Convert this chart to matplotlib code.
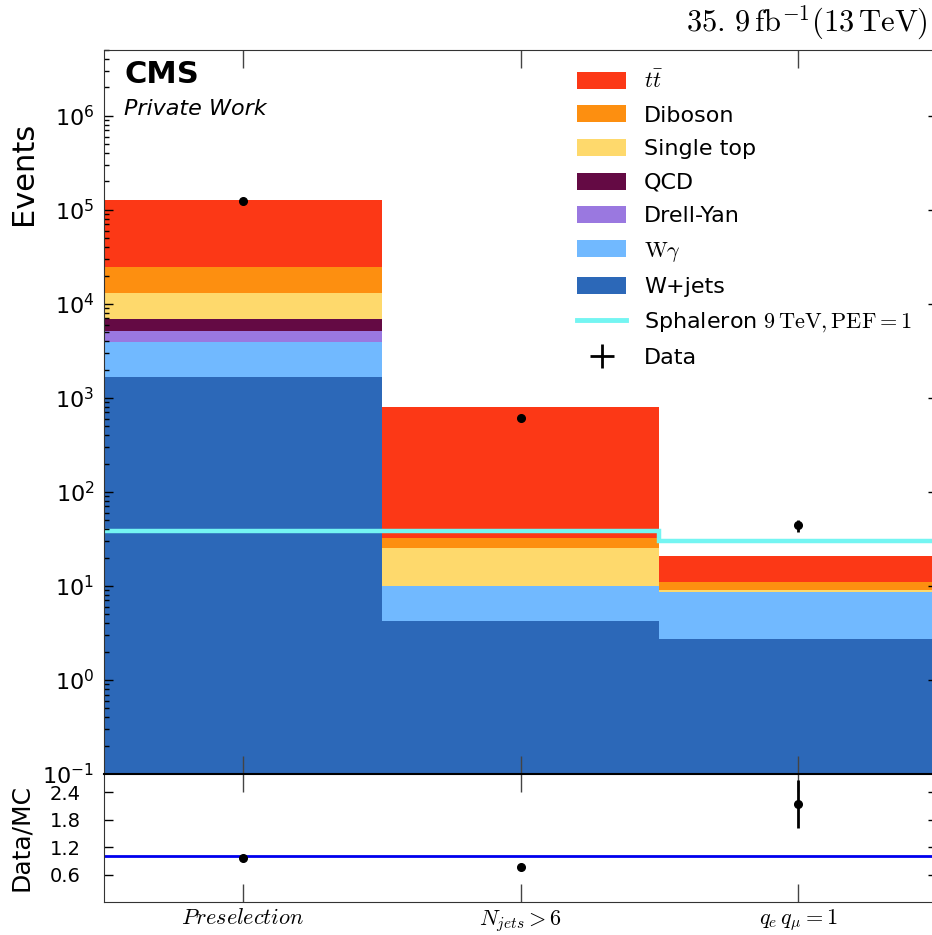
import numpy as np
import matplotlib
matplotlib.use('Agg')
import matplotlib.pyplot as plt
from matplotlib.lines import Line2D
from matplotlib.patches import Patch

plt.rcParams['mathtext.fontset'] = 'cm'
plt.rcParams['font.family'] = 'DejaVu Sans'

# ── Yields per selection stage ──────────────────────────────────────
categories = ["$Preselection$", "$N_{jets} > 6$", "$q_{e}\\,q_{\\mu} = 1$"]

# stacked from the bottom up
wjets     = [1660.0, 4.27, 2.73]
wgamma    = [2240.0, 5.73, 5.82]
drellyan  = [1300.0, 0.0, 0.0]
qcd       = [1700.0, 0.0, 0.0]
singletop = [6000.0, 15.5, 0.59]
diboson   = [12000.0, 6.5, 1.96]
ttbar     = [103700.0, 770.0, 9.5]

data       = [122500.0, 607.0, 44.1]
sphaleron  = [38.8, 38.8, 29.8]
ratio_err  = [0.01, 0.04, 0.53]

samples = [
    ("W+jets",         wjets,     "#2c68b8"),
    ("$\\mathrm{W}\\gamma$", wgamma, "#71b9ff"),
    ("Drell-Yan",      drellyan,  "#9a78e0"),
    ("QCD",            qcd,       "#640a44"),
    ("Single top",     singletop, "#fed96c"),
    ("Diboson",        diboson,   "#fd8f10"),
    ("$t\\bar{t}$",    ttbar,     "#fc3816"),
]

x = np.arange(len(categories))
edges = np.arange(len(categories) + 1)
data = np.array(data)
data_err = np.sqrt(data)
mc_total = np.sum([np.array(s[1]) for s in samples], axis=0)
ratio = data / mc_total

fig = plt.figure(figsize=(9.32, 9.35), dpi=100)
ax = fig.add_axes([0.1116, 0.1722, 0.8938, 0.7743])
rax = fig.add_axes([0.1116, 0.0353, 0.8938, 0.1369], sharex=ax)

# ── Stacked backgrounds ─────────────────────────────────────────────
bottom = np.zeros(len(categories))
for name, vals, col in samples:
    ax.bar(x, vals, width=1.0, bottom=bottom, color=col, linewidth=0, label=name)
    bottom = bottom + np.array(vals)

ax.stairs(sphaleron, edges - 0.5, color="#74f5f2", linewidth=3.2, baseline=None)
ax.errorbar(x, data, yerr=data_err, fmt="o", color="black", markersize=5.5,
            elinewidth=2, capsize=0)

ax.set_yscale("log")
ax.set_ylim(0.1, 5e6)
ax.set_xlim(-0.5, 2.5)
ax.set_xticks(x)
ax.tick_params(axis="x", which="major", direction="in", length=13, width=1,
               color="#444444", top=True, bottom=True, labelbottom=False)
ax.tick_params(axis="y", which="major", direction="in", length=6.5, width=1,
               left=True, right=True, labelsize=16, pad=7)
ax.tick_params(axis="y", which="minor", direction="in", length=3.6, width=1,
               left=True, right=False)
ax.set_ylabel("Events", fontsize=22)
ax.yaxis.set_label_coords(-0.079, 0.83)
for sp in ax.spines.values():
    sp.set_color("#333333")

ax.text(0.024, 0.986, "CMS", transform=ax.transAxes, fontsize=22,
        fontweight="bold", va="top", ha="left")
ax.text(0.024, 0.933, "Private Work", transform=ax.transAxes, fontsize=16,
        style="italic", va="top", ha="left")

fig.text(0.996, 0.976, "$35.\\,9\\,\\mathrm{fb}^{-1}(13\\,\\mathrm{TeV})$",
         ha="right", va="center", fontsize=22)

# ── Legend ──────────────────────────────────────────────────────────
handles = [Patch(facecolor=col, edgecolor="none") for _, _, col in samples][::-1]
labels = [name for name, _, _ in samples][::-1]
handles.append(Line2D([], [], color="#74f5f2", linewidth=3.5))
labels.append("Sphaleron $9\\,\\mathrm{TeV}, \\mathrm{PEF} = 1$")
handles.append(Line2D([], [], color="black", marker="+", markersize=17,
                      markeredgewidth=2, linestyle="none"))
labels.append("Data")
ax.legend(handles, labels, loc="upper left", bbox_to_anchor=(0.568, 0.973),
          frameon=False, fontsize=16, borderpad=0, borderaxespad=0,
          handlelength=2.2, handleheight=0.8, handletextpad=0.8,
          labelspacing=0.6)

# ── Ratio panel ─────────────────────────────────────────────────────
rax.axhline(1.0, color="#0000ee", linewidth=2)
rax.errorbar(x, ratio, yerr=ratio_err, fmt="o", color="black", markersize=5.5,
             elinewidth=2, capsize=0)
rax.set_ylim(0, 2.8)
rax.set_yticks([0.6, 1.2, 1.8, 2.4])
rax.set_xticks(x)
rax.set_xticklabels(categories, fontsize=16)
rax.tick_params(axis="x", which="major", direction="in", length=13, width=1,
                color="#444444", top=True, bottom=True, pad=4)
rax.tick_params(axis="y", which="major", direction="in", length=6.5, width=1,
                left=True, right=True, labelsize=14, pad=17)
rax.set_ylabel("Data/MC", fontsize=18)
rax.yaxis.set_label_coords(-0.085, 0.5)
for sp in rax.spines.values():
    sp.set_color("#333333")
rax.spines["top"].set_color("black")
rax.spines["top"].set_linewidth(1.5)

fig.savefig("out.png", dpi=100)
